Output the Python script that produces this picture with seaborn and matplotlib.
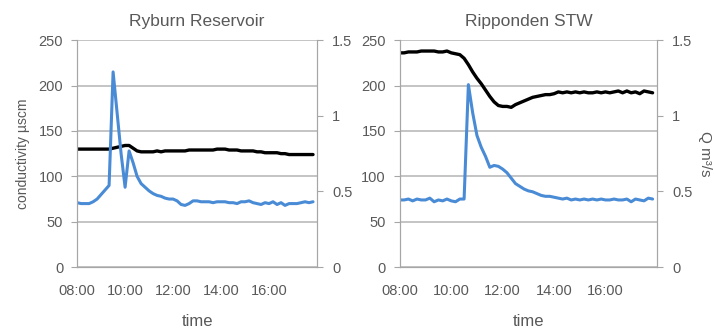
import pandas as pd
import matplotlib.pyplot as plt
import matplotlib.ticker as mticker
import seaborn as sns

# DATA  (10-minute readings, 08:00 - 17:50)
times = pd.date_range("2000-01-01 08:00", periods=60, freq="10min")
hours = times.hour + times.minute / 60

ryburn_cond = [130, 130, 130, 130, 130, 130, 130, 130, 130,
               131, 132, 133, 134, 134, 131, 128, 127, 127, 127,
               127, 128, 127, 128, 128, 128, 128, 128, 128, 129, 129,
               129, 129, 129, 129, 129, 130, 130, 130, 129, 129, 129,
               128, 128, 128, 128, 127, 127, 126, 126, 126, 126, 125,
               125, 124, 124, 124, 124, 124, 124, 124]
ryburn_q = [0.426, 0.420, 0.420, 0.420, 0.432, 0.450, 0.480, 0.510, 0.540, 1.290,
            1.020, 0.750, 0.528, 0.768, 0.690, 0.600, 0.552, 0.528, 0.504, 0.486,
            0.474, 0.468, 0.456, 0.450, 0.450, 0.438, 0.414, 0.408, 0.420, 0.438,
            0.438, 0.432, 0.432, 0.432, 0.426, 0.432, 0.432, 0.432, 0.426, 0.426,
            0.420, 0.432, 0.432, 0.438, 0.426, 0.420, 0.414, 0.426, 0.420, 0.432,
            0.414, 0.426, 0.408, 0.420, 0.420, 0.420, 0.426, 0.432, 0.426, 0.432]

rip_cond = [236, 236, 237, 237, 237, 238, 238, 238, 238, 237, 237, 238,
            236, 235, 234, 230, 223, 215, 208, 202, 195, 188, 182, 178,
            177, 177, 176, 179, 181, 183, 185, 187, 188, 189, 190, 190,
            191, 193, 192, 193, 192, 193, 192, 193, 192, 192, 193, 192,
            193, 192, 193, 194, 192, 194, 192, 193, 191, 194, 193, 192]
rip_q = [0.444, 0.444, 0.450, 0.438, 0.450, 0.444, 0.444, 0.456, 0.432, 0.444,
         0.438, 0.450, 0.438, 0.432, 0.450, 0.450, 1.206, 1.020, 0.870, 0.792,
         0.732, 0.660, 0.672, 0.666, 0.648, 0.624, 0.588, 0.552, 0.534, 0.516,
         0.504, 0.498, 0.486, 0.474, 0.468, 0.468, 0.462, 0.456, 0.450, 0.456,
         0.444, 0.450, 0.444, 0.450, 0.444, 0.450, 0.444, 0.450, 0.444, 0.444,
         0.450, 0.444, 0.444, 0.450, 0.432, 0.450, 0.444, 0.438, 0.456, 0.450]

titles = ["Ryburn Reservoir", "Ripponden STW"]
xtick_vals = [8, 10, 12, 14, 16, 18]
xtick_labels = ["08:00", "10:00", "12:00", "14:00", "16:00", ""]
cond_ticks = [0, 50, 100, 150, 200, 250]
q_ticks = [0, 0.5, 1, 1.5]

sns.set_style("white")
plt.rcParams['font.family'] = ['Liberation Sans', 'DejaVu Sans']

grey = "#595959"
axcol = "#a6a6a6"
blue = "#4a8bd6"

fig = plt.figure(figsize=(7.14, 3.29), dpi=100)
boxes = [[0.108, 0.188, 0.336, 0.690], [0.560, 0.188, 0.360, 0.690]]
series = [(ryburn_cond, ryburn_q), (rip_cond, rip_q)]

for i, (box, (cond, q)) in enumerate(zip(boxes, series)):
    ax = fig.add_axes(box)
    ax2 = ax.twinx()
    df = pd.DataFrame({"hour": hours, "cond": cond, "q": q})

    sns.lineplot(data=df, x="hour", y="cond", ax=ax, color="black", lw=2.4)
    sns.lineplot(data=df, x="hour", y="q", ax=ax2, color=blue, lw=2.2)

    ax.set_xlim(8, 18)
    ax.set_ylim(0, 250)
    ax2.set_ylim(0, 1.5)
    ax.set_xticks(xtick_vals)
    ax.set_xticklabels(xtick_labels)
    ax.set_yticks(cond_ticks)
    ax2.set_yticks(q_ticks)
    ax2.yaxis.set_major_formatter(mticker.FuncFormatter(lambda v, p: f"{v:g}"))

    ax.grid(axis="y", color="#c4c4c4", lw=1.4)
    ax.set_axisbelow(True)
    for a in (ax, ax2):
        a.spines["top"].set_visible(False)
        for s in ("left", "right", "bottom"):
            a.spines[s].set_color(axcol)
        a.tick_params(colors=grey, labelsize=10.5, length=4, width=0.8, direction="out")
        a.tick_params(axis="both", color=axcol)
    ax.tick_params(axis="y", pad=6)
    ax.tick_params(axis="x", pad=8)
    ax2.tick_params(axis="y", pad=7)

    ax.set_title(titles[i], fontsize=12.5, color=grey, pad=10)
    ax.set_xlabel("time", fontsize=12, color=grey, labelpad=12)
    ax.set_ylabel("conductivity µscm" if i == 0 else "", fontsize=10, color=grey,
                  labelpad=6)
    ax2.set_ylabel("Q m³/s" if i == 1 else "", fontsize=11, color=grey,
                   rotation=270, labelpad=14)

fig.savefig("out.png", dpi=100)
